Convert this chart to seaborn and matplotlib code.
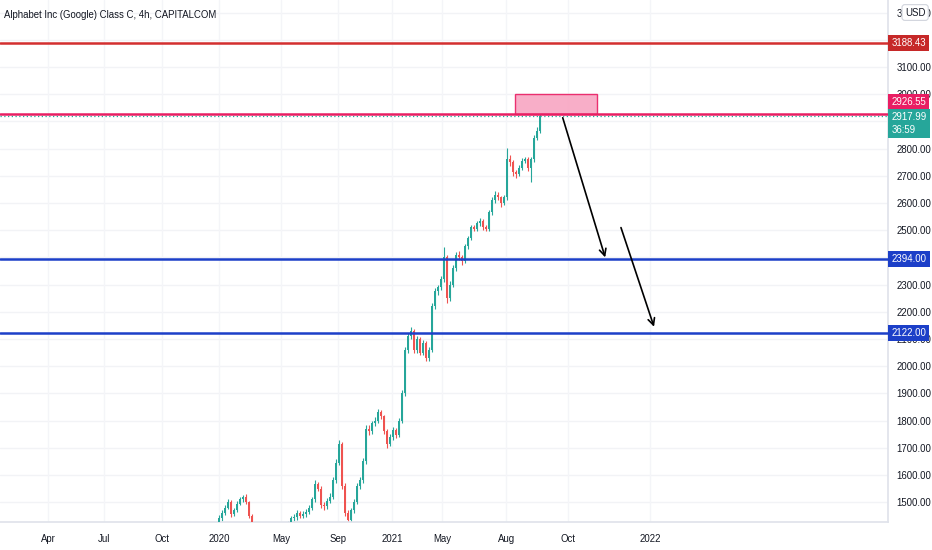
import numpy as np
import pandas as pd
import seaborn as sns
import matplotlib.pyplot as plt
from matplotlib.patches import Rectangle
import matplotlib.transforms as mtransforms

# 4h candles (one value per visible bar group), starting Jan 2020
close = [1440, 1460, 1480, 1500, 1455, 1470, 1495, 1510, 1520, 1500,
         1450, 1380, 1250, 1150, 1100, 1150, 1200, 1250, 1300, 1330,
         1360, 1380, 1400, 1420, 1440, 1445, 1460, 1450, 1455, 1465,
         1478, 1510, 1565, 1550, 1490, 1485, 1505, 1520, 1580, 1645,
         1715, 1560, 1460, 1435, 1470, 1500, 1560, 1580, 1650, 1770,
         1760, 1790, 1800, 1830, 1815, 1760, 1715, 1740, 1765, 1745,
         1800, 1900, 2060, 2110, 2130, 2060, 2100, 2050, 2085, 2030,
         2060, 2220, 2275, 2290, 2320, 2400, 2250, 2300, 2360, 2410,
         2400, 2385, 2440, 2470, 2510, 2505, 2525, 2535, 2510, 2505,
         2565, 2610, 2630, 2620, 2600, 2620, 2760, 2750, 2715, 2705,
         2730, 2755, 2760, 2730, 2760, 2840, 2865, 2918]
high = [1452, 1472, 1490, 1512, 1508, 1480, 1503, 1520, 1528, 1530,
        1506, 1458, 1390, 1262, 1160, 1165, 1210, 1262, 1310, 1340,
        1370, 1392, 1410, 1430, 1450, 1458, 1470, 1468, 1466, 1475,
        1490, 1520, 1580, 1575, 1558, 1500, 1515, 1532, 1592, 1660,
        1728, 1722, 1570, 1470, 1480, 1512, 1572, 1592, 1662, 1782,
        1785, 1800, 1812, 1842, 1840, 1822, 1768, 1750, 1775, 1772,
        1810, 1912, 2072, 2122, 2145, 2138, 2112, 2108, 2095, 2092,
        2072, 2232, 2288, 2300, 2332, 2438, 2408, 2312, 2372, 2420,
        2422, 2410, 2450, 2480, 2520, 2518, 2535, 2545, 2542, 2518,
        2575, 2620, 2642, 2640, 2626, 2630, 2802, 2775, 2758, 2722,
        2740, 2765, 2770, 2768, 2770, 2850, 2878, 2928]
low = [1418, 1432, 1452, 1474, 1446, 1448, 1462, 1488, 1502, 1492,
       1440, 1370, 1240, 1130, 1060, 1090, 1140, 1190, 1240, 1292,
       1322, 1352, 1372, 1392, 1412, 1430, 1436, 1440, 1442, 1446,
       1458, 1470, 1502, 1540, 1480, 1472, 1476, 1496, 1512, 1570,
       1635, 1548, 1448, 1410, 1425, 1460, 1492, 1550, 1570, 1640,
       1748, 1750, 1780, 1792, 1805, 1750, 1700, 1706, 1730, 1735,
       1738, 1790, 1892, 2050, 2100, 2048, 2050, 2040, 2040, 2018,
       2020, 2052, 2210, 2262, 2280, 2310, 2232, 2240, 2290, 2350,
       2390, 2372, 2378, 2430, 2462, 2495, 2498, 2515, 2500, 2495,
       2498, 2555, 2600, 2610, 2585, 2592, 2612, 2735, 2700, 2692,
       2698, 2722, 2745, 2718, 2677, 2752, 2830, 2858]
first_open = 1425

# levels drawn on the chart
resistance = 3188.43
zone_low, zone_high = 2926.55, 3000.0
last_price = 2917.99
countdown = "36:59"
supports = [2394.00, 2122.00]

month_labels = ["Apr", "Jul", "Oct", "2020", "May", "Sep", "2021", "May", "Aug", "Oct", "2022"]
month_pos = [-57, -38.3, -19, 0, 20.7, 39.7, 57.7, 74.3, 95.7, 116.3, 143.7]
price_ticks = list(range(1500, 3400, 100))
hidden_ticks = [2400, 2900, 3200]  # covered by the price tags on the scale

df = pd.DataFrame({"close": close, "high": high, "low": low})
df["open"] = df["close"].shift(1).fillna(first_open)
df["idx"] = np.arange(len(df))
df["up"] = df["close"] >= df["open"]

sns.set_theme(style="white")
plt.rcParams["font.family"] = ["Liberation Sans", "DejaVu Sans"]

GREEN = "#26a69a"
RED = "#ef5350"
BLUE = "#1c3fc8"
PINK = "#e91e63"
DARKRED = "#d32f2f"
TXT = "#131722"
FS = 6.9

fig = plt.figure(figsize=(9.32, 5.5), dpi=100)
ax = fig.add_axes([0, 28 / 550, 888 / 932, 522 / 550])

ax.set_xlim(-73, 223)
ax.set_ylim(1427, 3346)

# grid
for p in price_ticks:
    ax.axhline(p, color="#f2f3f6", lw=1, zorder=0)
for xp in month_pos:
    ax.axvline(xp, color="#f4f5f8", lw=1, zorder=0)

# candles
colors = np.where(df["up"], GREEN, RED)
ax.vlines(df["idx"], df["low"], df["high"], colors=colors, lw=0.8, zorder=2)
body_bottom = df[["open", "close"]].min(axis=1)
body_h = (df["open"] - df["close"]).abs().clip(lower=3)
ax.bar(df["idx"], body_h, bottom=body_bottom, width=0.7, color=colors, lw=0, zorder=3)

# horizontal levels
ax.axhline(resistance, color=DARKRED, lw=1.8, zorder=4)
ax.axhline(zone_low, color=PINK, lw=1.8, zorder=4)
for s in supports:
    ax.axhline(s, color=BLUE, lw=1.8, zorder=4)
ax.axhline(last_price, color=GREEN, lw=0.9, ls=(0, (1, 2)), zorder=4)

# supply zone
ax.add_patch(Rectangle((98.7, zone_low), 27.3, zone_high - zone_low,
                       facecolor="#f8a5c2", edgecolor=PINK, lw=1, alpha=0.9, zorder=3))

# arrows
arrow_kw = dict(arrowstyle="->", color="black", lw=1.2, mutation_scale=12)
ax.annotate("", xy=(129, 2390), xytext=(114.3, 2923), arrowprops=arrow_kw, zorder=5)
ax.annotate("", xy=(145.3, 2135), xytext=(133.7, 2519), arrowprops=arrow_kw, zorder=5)

# axes styling
for side in ["top", "left"]:
    ax.spines[side].set_visible(False)
ax.spines["right"].set_color("#e0e3eb")
ax.spines["bottom"].set_color("#e0e3eb")
ax.yaxis.tick_right()
ax.set_yticks(price_ticks)
ax.set_yticklabels(["" if p in hidden_ticks else f"{p:.2f}" for p in price_ticks],
                   fontsize=FS, color=TXT)
ax.set_xticks(month_pos)
ax.set_xticklabels(month_labels, fontsize=FS, color=TXT)
ax.tick_params(axis="y", length=0, pad=6)
ax.tick_params(axis="x", length=0, pad=9)

# price labels on the scale
trans = mtransforms.blended_transform_factory(ax.transAxes, ax.transData)
def price_tag(y, text, bg, fg="white"):
    ax.text(1.004, y, text, transform=trans, ha="left", va="center", fontsize=FS,
            color=fg, clip_on=False, zorder=10,
            bbox=dict(boxstyle="square,pad=0.32", fc=bg, ec="none"))

price_tag(resistance, f"{resistance:.2f}", "#c62828")
price_tag(2971, f"{zone_low:.2f}", PINK)
ax.text(1.004, last_price - 25, f"{last_price:.2f}\n{countdown}", transform=trans,
        ha="left", va="center", fontsize=FS, color="white", linespacing=1.35,
        clip_on=False, zorder=10, bbox=dict(boxstyle="square,pad=0.32", fc=GREEN, ec="none"))
for s in supports:
    price_tag(s, f"{s:.2f}", BLUE)
ax.text(1.019, 3300, "USD", transform=trans, ha="left", va="center", fontsize=FS,
        color=TXT, clip_on=False, zorder=11,
        bbox=dict(boxstyle="round,pad=0.3", fc="white", ec="#d1d4dc", lw=0.8))

ax.text(0.005, 3290, "Alphabet Inc (Google) Class C, 4h, CAPITALCOM", transform=trans,
        ha="left", va="center", fontsize=6.9, color=TXT, zorder=10)

fig.savefig("out.png", dpi=100)
